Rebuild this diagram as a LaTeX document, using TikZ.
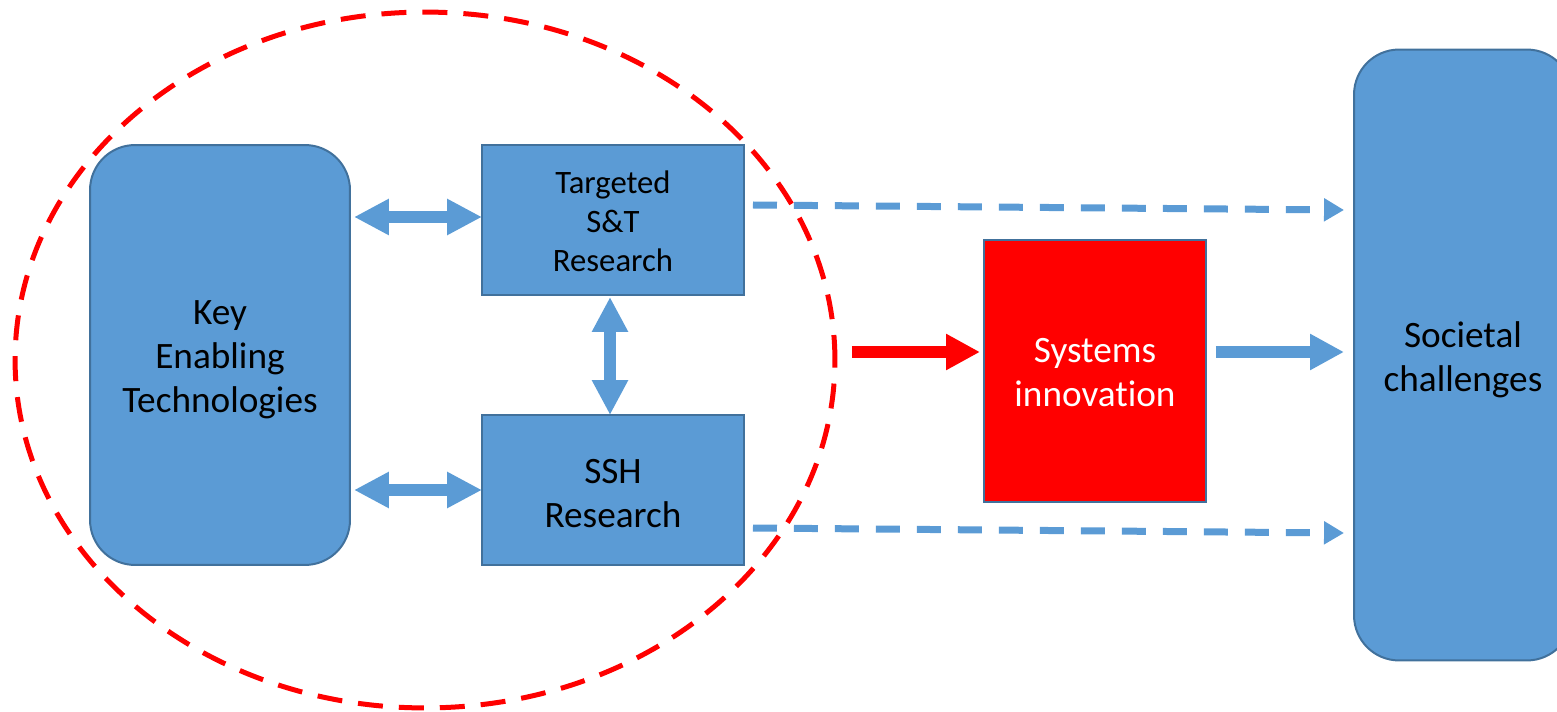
\documentclass[tikz,border=0pt]{standalone}
\usepackage{fontspec}
\setmainfont[Ligatures=NoCommon]{Carlito}
\usetikzlibrary{arrows.meta,calc,shapes.geometric}
\definecolor{boxblue}{HTML}{5B9BD5}
\definecolor{edgeblue}{HTML}{41719C}
\begin{document}
\begin{tikzpicture}[x=0.02cm,y=-0.02cm,
  box/.style={draw=edgeblue, line width=0.04cm, fill=boxblue, inner sep=0pt, outer sep=0pt},
  rbox/.style={box, rounded corners=0.9cm},
  lbl/.style={align=center, inner sep=0pt, font=\fontsize{21.2}{25}\selectfont},
  smalllbl/.style={lbl, font=\fontsize{18.6}{22.2}\selectfont},
  blockarrow/.style={line width=0.24cm, draw=boxblue, -{Triangle[length=0.68cm,width=0.68cm]}},
  dblarrow/.style={line width=0.24cm, draw=boxblue, {Triangle[length=0.7cm,width=0.68cm]}-{Triangle[length=0.7cm,width=0.68cm]}},
  dasharrow/.style={draw=boxblue, line width=0.14cm, dash pattern=on 0.48cm off 0.34cm, -{Triangle[length=0.4cm,width=0.44cm]}},
  grpstyle/.style={ellipse, draw=red, line width=0.1cm, dash pattern=on 0.5cm off 0.32cm, inner sep=0pt, outer sep=0pt}
]
\useasboundingbox (0,0) rectangle (1557,712);

\node[rbox, minimum width=5.2cm, minimum height=8.4cm] (ket) at (220,355) {};
\node[box, minimum width=5.24cm, minimum height=3cm] (tgt) at (613,220) {};
\node[box, minimum width=5.24cm, minimum height=3cm] (ssh) at (613,490) {};
\node[box, fill=red, minimum width=4.44cm, minimum height=5.24cm] (sys) at (1095,371) {};
\node[rbox, minimum width=4.36cm, minimum height=12.22cm] (soc) at (1463,355) {};

\node[lbl] (ketT) at ($(ket.center)+(0,5)$) {Key\\Enabling\\Technologies};
\node[smalllbl] (tgtT) at ($(tgt.center)+(0,1)$) {Targeted\\S\&T\\Research};
\node[lbl] (sshT) at ($(ssh.center)+(0,4)$) {SSH\\Research};
\node[lbl, text=white] (sysT) at ($(sys.center)+(0,2)$) {Systems\\innovation};
\node[lbl] (socT) at ($(soc.center)+(0,5)$) {Societal\\challenges};

\draw[dblarrow] ($(ket.east |- tgt.west)+(4,-3)$) -- ($(tgt.west)+(0,-3)$);
\draw[dblarrow] ($(ket.east |- ssh.west)+(4,0)$) -- (ssh.west);
\draw[dblarrow] ($(tgt.south)+(-3,2)$) -- ($(ssh.north)+(-3,0)$);

\draw[dasharrow] ($(tgt.east)+(9,-15)$) -- ($(soc.west)+(-10,-145)$);
\draw[dasharrow] ($(ssh.east)+(9,38)$) -- ($(soc.west)+(-10,178)$);

\node[grpstyle, minimum width=16.4cm, minimum height=13.92cm] (grp) at (425,360) {};

\draw[blockarrow, draw=red] ($(grp.east)+(17,-8)$) -- ($(sys.west)+(-4,-19)$);
\draw[blockarrow] ($(sys.east)+(10,-19)$) -- ($(soc.west)+(-10,-3)$);
\end{tikzpicture}
\end{document}
